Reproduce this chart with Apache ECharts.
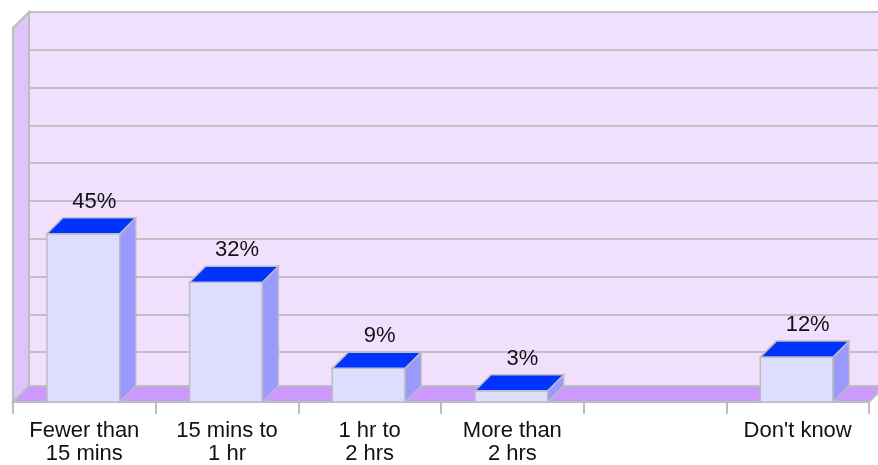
<!DOCTYPE html>
<html>
<head>
<meta charset="utf-8">
<script src="https://cdn.jsdelivr.net/npm/echarts@6/dist/echarts.min.js"></script>
<style>
  html, body { margin: 0; padding: 0; background: #fff; }
  #main { width: 878px; height: 465px; }
</style>
</head>
<body>
<div id="main"></div>
<script>
var myChart = echarts.init(document.getElementById('main'));

var categories = ['Fewer than\n15 mins', '15 mins to\n1 hr', '1 hr to\n2 hrs', 'More than\n2 hrs', '', "Don't know"];
var values = [45, 32, 9, 3, null, 12];
var yMax = 100;
var yStep = 10;

var depth = 16;         // 3D offset of the back wall
var edgeColor = '#bdbdbd';
var font = '"Liberation Sans", Arial, Helvetica, sans-serif';

var barData = [];
values.forEach(function (v, i) {
    if (v != null) barData.push([i, v]);
});

// walls + floor drawn from the front grid rectangle
function renderWalls(params, api) {
    var cs = params.coordSys;
    var x = cs.x, y = cs.y, w = cs.width, h = cs.height, d = depth;
    return {
        type: 'group',
        children: [{
            type: 'polygon',
            shape: { points: [[x, y + h], [x + d, y + h - d], [x + d, y - d], [x, y]] },
            style: { fill: '#ddc4fd', stroke: edgeColor, lineWidth: 2 }
        }, {
            type: 'polygon',
            shape: { points: [[x, y + h], [x + d, y + h - d], [x + w + d, y + h - d], [x + w, y + h]] },
            style: { fill: '#cc99ff', stroke: edgeColor, lineWidth: 2 }
        }]
    };
}

function renderBar(params, api) {
    var cat = api.value(0);
    var base = api.coord([cat, 0]);
    var top = api.coord([cat, api.value(1)]);
    var bw = api.size([1, 0])[0] * 0.51;
    var d = depth;
    var x0 = base[0] - bw / 2 - 1;
    var yt = top[1], yb = base[1];
    return {
        type: 'group',
        children: [{
            type: 'rect',
            shape: { x: x0, y: yt, width: bw, height: yb - yt },
            style: { fill: '#ddddff', stroke: edgeColor, lineWidth: 1.5 }
        }, {
            type: 'polygon',
            shape: { points: [[x0 + bw, yt], [x0 + bw + d, yt - d], [x0 + bw + d, yb - d], [x0 + bw, yb]] },
            style: { fill: '#9999ff', stroke: edgeColor, lineWidth: 1.5 }
        }, {
            type: 'polygon',
            shape: { points: [[x0, yt], [x0 + d, yt - d], [x0 + bw + d, yt - d], [x0 + bw, yt]] },
            style: { fill: '#0033ff', stroke: edgeColor, lineWidth: 1.5 }
        }, {
            type: 'text',
            style: {
                x: x0 + bw / 2 + 11,
                y: yt - d - 16,
                text: api.value(1) + '%',
                fill: '#111',
                font: '22px ' + font,
                textAlign: 'center',
                textVerticalAlign: 'middle'
            }
        }]
    };
}

option = {
    animation: false,
    backgroundColor: '#fff',
    grid: [{
        left: 13, right: 9, top: 28, bottom: 59
    }, {
        // back wall
        left: 13 + depth, right: 0, top: 28 - depth, bottom: 59 + depth,
        show: true, backgroundColor: '#f0e0fd', borderWidth: 0
    }],
    xAxis: [{
        type: 'category',
        gridIndex: 0,
        data: categories,
        axisLine: { show: true, lineStyle: { color: edgeColor, width: 2 } },
        axisTick: { show: true, length: 12, interval: 0, lineStyle: { color: edgeColor, width: 2 } },
        axisLabel: {
            interval: 0, margin: 17, color: '#111',
            fontSize: 22, fontFamily: font, lineHeight: 23
        },
        z: 3
    }, {
        type: 'category',
        gridIndex: 1,
        data: categories,
        show: false
    }],
    yAxis: [{
        type: 'value',
        gridIndex: 0,
        min: 0, max: yMax, interval: yStep,
        show: false
    }, {
        type: 'value',
        gridIndex: 1,
        min: 0, max: yMax, interval: yStep,
        axisLine: { show: false },
        axisTick: { show: false },
        axisLabel: { show: false },
        splitLine: { show: true, lineStyle: { color: '#c0bfc6', width: 2 } }
    }],
    series: [{
        type: 'custom',
        xAxisIndex: 0, yAxisIndex: 0,
        renderItem: renderWalls,
        data: [[0, 0]],
        z: 1,
        silent: true
    }, {
        type: 'custom',
        xAxisIndex: 0, yAxisIndex: 0,
        renderItem: renderBar,
        data: barData,
        z: 5
    }]
};
myChart.setOption(option);
</script>
</body>
</html>
